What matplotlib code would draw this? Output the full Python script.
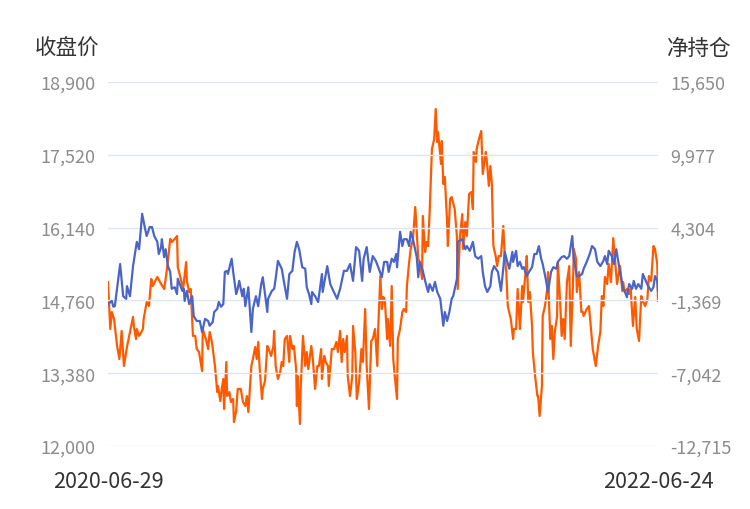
import numpy as np
import pandas as pd
import matplotlib
matplotlib.use("Agg")
import matplotlib.pyplot as plt
import matplotlib.dates as mdates
from matplotlib.ticker import FixedLocator, FuncFormatter

plt.rcParams['font.family'] = ['Noto Sans CJK SC', 'DejaVu Sans']

start_date = pd.Timestamp('2020-06-29')
end_date = pd.Timestamp('2022-06-24')

# 收盘价 (left axis): calendar-day offset from start, value
price_days = [0, 5, 7, 9, 16, 20, 24, 25, 29, 33, 38, 41, 45, 49, 51, 55, 58, 61, 65, 67,
              70, 71, 74, 76, 79, 82, 84, 88, 91, 92, 98, 100, 101, 104, 107, 111, 113, 117, 121, 124,
              128, 132, 134, 138, 140, 144, 146, 149, 152, 154, 157, 158, 163, 165, 169, 171, 173, 177, 179, 181,
              185, 189, 191, 195, 198, 202, 204, 207, 210, 211, 216, 219, 221, 224, 229, 232, 236, 239, 243, 246,
              249, 252, 256, 260, 262, 265, 268, 269, 273, 277, 282, 283, 289, 293, 297, 302, 306, 311, 315, 319,
              323, 327, 331, 335, 337, 341, 345, 349, 353, 357, 361, 364, 368, 370, 374, 377, 380, 381, 385, 388,
              390, 394, 397, 399, 402, 407, 409, 411, 415, 418, 422, 424, 428, 431, 434, 438, 442, 444, 447, 450,
              453, 455, 460, 461, 467, 471, 473, 477, 481, 484, 488, 492, 494, 497, 500, 504, 506, 509, 513, 514,
              518, 521, 523, 526, 529, 533, 534, 538, 540, 543, 546, 548, 552, 555, 559, 562, 565, 568, 571, 573,
              577, 580, 584, 587, 591, 593, 598, 601, 605, 608, 612, 614, 618, 621, 625, 627, 631, 635, 638, 642,
              645, 649, 653, 655, 658, 660, 664, 667, 670, 672, 675, 679, 681, 684, 687, 691, 693, 696, 699, 703,
              705, 709, 712, 716, 719, 721, 724, 725]
price = [14690, 14750, 14640, 14650, 15450, 14840, 14790, 15030, 14840, 15410, 15870, 15730, 16400, 16110, 15980, 16150, 16150, 15980, 15870, 15640,
         15770, 15920, 15580, 15730, 15410, 15300, 14980, 15010, 14880, 15170, 14940, 14980, 14750, 14940, 14690, 14840, 14460, 14370, 14370, 14160,
         14410, 14370, 14280, 14350, 14540, 14600, 14730, 14640, 14690, 15300, 15320, 15260, 15550, 15300, 14880, 14980, 15130, 14840, 14980, 14650,
         15010, 14160, 14600, 14840, 14650, 15070, 15200, 14880, 14540, 14790, 14940, 14980, 15170, 15510, 15360, 15110, 14790, 15260, 15320, 15680,
         15870, 15730, 15390, 15360, 15010, 14880, 14690, 14920, 14840, 14730, 15260, 14920, 15410, 15070, 14940, 14790, 14980, 15320, 15320, 15450,
         15130, 15770, 15700, 15130, 15550, 15770, 15300, 15600, 15510, 15360, 15200, 15490, 15490, 15300, 15550, 15490, 15640, 15390, 16060, 15790,
         15920, 15920, 15790, 16060, 15920, 15580, 15200, 15490, 15320, 15130, 14920, 15070, 14940, 15110, 14920, 14790, 14280, 14540, 14370, 14540,
         14790, 14840, 15170, 15870, 15920, 15730, 15790, 15700, 15870, 15600, 15550, 15600, 15300, 15030, 14920, 15030, 15300, 15410, 15320, 15300,
         14940, 15360, 15680, 15510, 15360, 15680, 15490, 15700, 15410, 15490, 15360, 15390, 15220, 15300, 15390, 15640, 15640, 15790, 15550, 15450,
         15170, 14920, 15300, 15390, 15360, 15490, 15580, 15600, 15550, 15600, 15980, 15550, 15220, 15220, 15260, 15360, 15490, 15640, 15790, 15730,
         15490, 15410, 15510, 15600, 15450, 15700, 15600, 15450, 15730, 15550, 15300, 14980, 14940, 14820, 15070, 14980, 15130, 14980, 15070, 14980,
         15260, 15130, 15030, 14940, 15010, 15220, 15130, 14940]

# 净持仓 (right axis): calendar-day offset from start, value
net_days = [0, 3, 5, 8, 12, 15, 18, 21, 25, 29, 33, 34, 37, 38, 41, 44, 46, 47, 51, 54,
            57, 59, 65, 70, 74, 76, 79, 82, 84, 88, 91, 92, 96, 99, 103, 104, 107, 109, 112, 115,
            117, 120, 124, 125, 129, 132, 134, 137, 141, 144, 145, 148, 150, 152, 153, 156, 157, 160, 162, 165,
            166, 169, 171, 175, 178, 181, 183, 185, 189, 191, 194, 196, 198, 200, 203, 204, 207, 210, 211, 215,
            218, 219, 221, 224, 227, 229, 231, 233, 236, 239, 240, 243, 245, 248, 249, 250, 253, 254, 257, 260,
            262, 264, 268, 270, 273, 276, 278, 281, 282, 285, 287, 290, 291, 295, 298, 301, 303, 306, 308, 310,
            312, 315, 316, 319, 322, 323, 326, 328, 331, 334, 336, 339, 341, 344, 347, 349, 352, 355, 356, 359,
            361, 363, 365, 368, 369, 372, 374, 376, 378, 381, 382, 385, 388, 390, 393, 394, 397, 399, 402, 405,
            407, 409, 411, 414, 415, 418, 420, 422, 424, 427, 430, 432, 434, 435, 439, 440, 442, 444, 447, 448,
            451, 453, 457, 460, 461, 464, 467, 468, 471, 473, 476, 479, 481, 482, 485, 486, 489, 492, 494, 498,
            500, 502, 504, 506, 508, 511, 513, 515, 518, 521, 523, 525, 527, 531, 534, 535, 538, 540, 543, 546,
            547, 550, 552, 554, 556, 559, 560, 563, 566, 567, 569, 572, 573, 576, 579, 580, 583, 585, 587, 589,
            592, 593, 596, 598, 600, 602, 605, 608, 610, 613, 614, 617, 618, 621, 624, 626, 627, 631, 634, 637,
            639, 643, 646, 649, 651, 653, 655, 658, 660, 663, 666, 668, 671, 675, 678, 679, 681, 684, 687, 689,
            692, 695, 697, 700, 703, 705, 708, 711, 713, 716, 719, 721, 724, 725]
net_pos = [60, -3600, -2270, -2820, -4920, -5940, -3750, -6480, -5000, -3830, -2660, -3360, -4380, -3600, -4140, -3830, -3600, -2820, -1490, -1810,
           300, -250, 460, -90, -480, 300, 1700, 3420, 3180, 3420, 3650, 1230, 300, -480, 1620, 140, -720, -480, -4140, -4140,
           -5160, -5390, -6870, -3600, -4380, -5160, -3830, -4610, -6480, -8510, -8040, -9210, -8270, -7490, -9830, -6170, -8820, -8510, -9290, -9050,
           -10850, -9990, -8270, -8270, -9290, -9600, -8820, -10070, -6480, -5940, -5000, -5940, -4610, -6720, -9050, -8270, -7650, -4920, -5000, -5700,
           -4920, -3750, -6480, -7490, -6950, -6170, -6480, -4380, -4140, -6170, -4140, -5160, -4920, -6720, -9600, -7260, -11000, -8270, -4140, -6480,
           -5390, -6720, -4920, -5940, -8270, -6480, -6480, -5160, -7490, -5700, -6170, -6480, -8040, -5160, -5160, -4610, -5390, -3750, -6170, -4380,
           -5390, -4140, -7260, -8820, -7260, -3360, -5390, -9050, -7730, -5160, -6170, -2040, -6480, -9830, -4530, -4380, -3600, -6480, -3830, 530,
           -2040, -1100, -1420, -4380, -2820, -4920, -250, -5940, -7260, -9050, -4380, -3600, -2270, -2040, -2270, -250, 1620, 2640, 3420, 5910,
           3960, 1860, 1620, 300, 5210, 2400, 3180, 2870, 5520, 10430, 11210, 13550, 10970, 11750, 9260, 11050, 7700, 8250, 4740, 2870,
           6530, 6690, 5750, 3570, -480, 3650, 5360, 2640, 4740, 3650, 6920, 7080, 5750, 10200, 9420, 10430, 11210, 11830, 8480, 10200,
           9100, 7550, 9100, 7700, 2870, 2090, 1310, 2090, 2090, 4430, 2010, 840, -1810, -2820, -4380, -3600, -3600, -480, -3600, -250,
           -1490, 530, 2090, -1490, -720, -3360, -5390, -7260, -8820, -8820, -10380, -8040, -2590, -1810, -480, 840, -4380, -3360, -5940, -3830,
           -2590, 1620, -1490, -4140, -2820, -4380, 60, 1310, -4920, 60, 2640, 1860, -720, 840, -2270, -2270, -2590, -2040, -1810, -3830,
           -5160, -6480, -4920, -3830, -1030, -1810, 460, -90, 1470, 60, 3490, 2010, -90, 1310, -640, 60, -720, -480, -870, -480,
           -3360, -1100, -3600, -4530, -1030, -1420, -1810, -1260, 530, 140, 2870, 2640, 1470, -1420]

left_ticks = [12000, 13380, 14760, 16140, 17520, 18900]
right_ticks = [-12715, -7042, -1369, 4304, 9977, 15650]

price_dates = start_date + pd.to_timedelta(price_days, unit='D')
net_dates = start_date + pd.to_timedelta(net_days, unit='D')

fig = plt.figure(figsize=(7.5, 5.1), dpi=100)
ax = fig.add_axes([108 / 750, 1 - 447 / 510, 550 / 750, 364 / 510])
ax2 = ax.twinx()

grid_c = '#e0e6f1'
tick_c = '#8c8c8c'

ax.plot(price_dates, price, color='#4a64c8', lw=1.6, zorder=3)
ax2.plot(net_dates, net_pos, color='#ff5a00', lw=1.6, zorder=3)

ax.set_xlim(start_date, end_date)
ax.set_ylim(left_ticks[0], left_ticks[-1])
ax2.set_ylim(right_ticks[0], right_ticks[-1])

ax.yaxis.set_major_locator(FixedLocator(left_ticks))
ax2.yaxis.set_major_locator(FixedLocator(right_ticks))
fmt = FuncFormatter(lambda v, p: f'{int(round(v)):,}')
ax.yaxis.set_major_formatter(fmt)
ax2.yaxis.set_major_formatter(fmt)

ax.grid(axis='y', color=grid_c, lw=1)
ax.set_axisbelow(True)

for a in (ax, ax2):
    for s in a.spines.values():
        s.set_visible(False)
    a.tick_params(axis='y', length=0, labelsize=13, labelcolor=tick_c, pad=9)

ax.set_xticks([start_date, end_date])
ax.xaxis.set_major_formatter(mdates.DateFormatter('%Y-%m-%d'))
ax.tick_params(axis='x', length=0, labelsize=15.5, labelcolor='#333333', pad=17)

ax.set_zorder(ax2.get_zorder() + 1)
ax.patch.set_visible(False)

fig.text(35 / 750, 1 - 49 / 510, '收盘价', fontsize=15.5, color='#333333', va='center', ha='left')
fig.text(731 / 750, 1 - 49 / 510, '净持仓', fontsize=15.5, color='#333333', va='center', ha='right')

fig.savefig('out.png', dpi=100)
